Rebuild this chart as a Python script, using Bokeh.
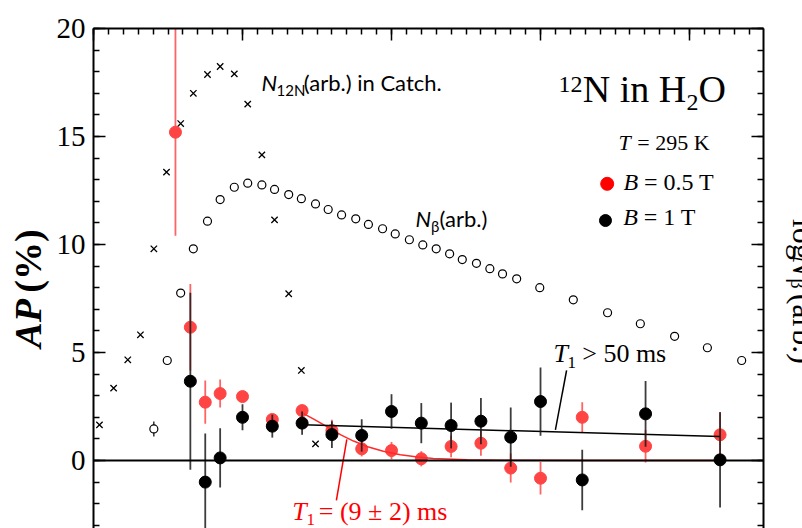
import numpy as np
from bokeh.plotting import figure
from bokeh.layouts import row
from bokeh.models import Range1d, LinearAxis, FixedTicker, Span, Label
from bokeh.embed import file_html
from bokeh.resources import INLINE

# ---- measured asymmetry, B = 0.5 T ----
t_b05 = [11, 13, 15, 17, 20, 24, 28, 32, 36, 40, 44, 48, 52, 56, 60, 65.6, 74.1, 84.1]
ap_b05 = [15.2, 6.17, 2.7, 3.1, 2.96, 1.9, 2.31, 1.39, 0.54, 0.46, 0.08, 0.65, 0.8, -0.35, -0.82, 2.0, 0.66, 1.19]
err_b05 = [4.8, 2.0, 1.0, 0.65, 0.25, 0.25, 0.25, 0.5, 0.35, 0.4, 0.35, 0.5, 0.58, 0.67, 0.75, 0.7, 0.75, 1.05]

# ---- measured asymmetry, B = 1 T ----
t_b1 = [13, 15, 17, 20, 24, 28, 32, 36, 40, 44, 48, 52, 56, 60, 65.6, 74.1, 84.1]
ap_b1 = [3.67, -1.0, 0.12, 2.0, 1.59, 1.73, 1.2, 1.16, 2.27, 1.73, 1.62, 1.82, 1.08, 2.73, -0.9, 2.16, 0.03]
err_b1 = [4.1, 2.25, 1.37, 0.6, 0.53, 0.54, 0.62, 0.75, 0.8, 0.93, 1.06, 1.07, 1.37, 1.58, 1.4, 1.52, 2.2]

# ---- 12N yield in the catcher (arb.) ----
t_catch = [0.8, 2.7, 4.6, 6.3, 8.1, 9.8, 11.7, 13.4, 15.3, 17.0, 18.9, 20.7, 22.6, 24.3, 26.2, 27.9, 29.8]
n_catch = [1.65, 3.35, 4.66, 5.82, 9.8, 13.35, 15.6, 17.0, 17.87, 18.24, 17.9, 16.5, 14.15, 11.14, 7.72, 4.17, 0.77]

# ---- beta counts (arb.) ----
t_beta = [8.1, 9.9, 11.7, 13.4, 15.3, 17.0, 18.9, 20.7, 22.6, 24.3, 26.2, 27.9, 29.8, 31.5, 33.3,
          35.2, 36.9, 38.8, 40.5, 42.4, 44.2, 46.0, 47.8, 49.5, 51.4, 53.2, 54.9, 56.8, 59.9,
          64.4, 69.0, 73.4, 78.0, 82.4, 87.0]
n_beta = [1.46, 4.63, 7.75, 9.8, 11.08, 12.08, 12.65, 12.84, 12.76, 12.55, 12.31, 12.12, 11.88, 11.62, 11.37,
          11.19, 10.93, 10.73, 10.49, 10.22, 9.98, 9.8, 9.57, 9.3, 9.13, 8.88, 8.64, 8.41, 8.0,
          7.44, 6.84, 6.33, 5.75, 5.22, 4.63]
beta_err_index = 0
beta_err = 0.35

# ---- relaxation fits ----
fit_t_fast = [28.2, 29.5, 31.4, 33.2, 34.9, 36.8, 38.9, 41.2, 43.5, 45.6, 50.2, 54.6, 68.0, 84.2]
fit_ap_fast = [2.17, 1.93, 1.56, 1.19, 0.9, 0.64, 0.43, 0.27, 0.16, 0.09, 0.035, 0.015, 0.0, 0.0]
fit_t_slow = [28.1, 84.1]
fit_ap_slow = [1.65, 1.11]

y_major = [0, 5, 10, 15, 20]
x_major = [0, 20, 40, 60, 80]

SERIF = "Liberation Serif"
SANS = "Lato"
RED_DOT = "#ff4444"
RED_BAR = "#ff6464"
PX_PER_UNIT = 21.6   # vertical pixels per AP unit in the main frame

H = 528
p = figure(width=715, height=H, x_range=Range1d(0, 89.93), y_range=Range1d(-3.148, 20),
           output_backend="svg", toolbar_location=None, x_axis_location="above",
           min_border_left=43, min_border_right=2, min_border_top=28, min_border_bottom=0,
           outline_line_color=None, background_fill_color="white", border_fill_color="white")
p.grid.visible = False


def style_axis(ax, ticks, minor, show_labels):
    ax.ticker = FixedTicker(ticks=ticks, minor_ticks=minor)
    ax.axis_line_width = 2
    ax.axis_line_color = "black"
    ax.major_tick_in = 12
    ax.major_tick_out = 0
    ax.minor_tick_in = 6
    ax.minor_tick_out = 0
    ax.major_tick_line_width = 1.5
    ax.minor_tick_line_width = 1.5
    ax.major_tick_line_color = "black"
    ax.minor_tick_line_color = "black"
    if show_labels:
        ax.major_label_text_font = SERIF
        ax.major_label_text_font_size = "29px"
        ax.major_label_text_color = "black"
        ax.major_label_standoff = 8
    else:
        ax.major_label_text_font_size = "0px"
        ax.major_label_text_color = None
        ax.major_label_standoff = 0


style_axis(p.xaxis[0], x_major, list(range(0, 91, 2)), False)
style_axis(p.yaxis[0], y_major, list(range(-3, 21)), True)
right_axis = LinearAxis()
style_axis(right_axis, y_major, list(range(-3, 21)), False)
p.add_layout(right_axis, "right")

p.add_layout(Span(location=0, dimension="width", line_color="black", line_width=2))

# catcher yield and beta counts
p.scatter(t_catch, n_catch, marker="x", size=9, line_color="black", line_width=1.3)
p.segment(x0=[t_beta[beta_err_index]], x1=[t_beta[beta_err_index]],
          y0=[n_beta[beta_err_index] - beta_err], y1=[n_beta[beta_err_index] + beta_err],
          line_color="black", line_width=1.2)
p.scatter(t_beta, n_beta, marker="circle", size=8, fill_color="white", line_color="black", line_width=1.2)

# B = 0.5 T
a05 = np.array(ap_b05)
e05 = np.array(err_b05)
p.segment(x0=t_b05, x1=t_b05, y0=a05 - e05, y1=a05 + e05, line_color=RED_BAR, line_width=1.8)
p.scatter(t_b05, ap_b05, marker="circle", size=12, fill_color=RED_DOT, line_color=RED_DOT)

# fits
p.line(fit_t_fast, fit_ap_fast, line_color="#ff2a2a", line_width=1.5)
p.line(fit_t_slow, fit_ap_slow, line_color="black", line_width=1.5)

# B = 1 T
a1 = np.array(ap_b1)
e1 = np.array(err_b1)
p.segment(x0=t_b1, x1=t_b1, y0=a1 - e1, y1=a1 + e1, line_color="#1a1a1a", line_width=1.8, line_alpha=0.85)
p.scatter(t_b1, ap_b1, marker="circle", size=12, fill_color="black", line_color="black")

# pointer lines to the fit annotations
p.segment(x0=[34.0], y0=[0.98], x1=[32.6], y1=[-1.85], line_color="red", line_width=1.5)
p.segment(x0=[63.5], y0=[4.17], x1=[62.0], y1=[1.42], line_color="black", line_width=1.5)

# legend swatches
p.scatter([68.95], [12.81], marker="circle", size=13, fill_color="red", line_color="red")
p.scatter([68.72], [11.11], marker="circle", size=12, fill_color="black", line_color="black")


def txt(x, y, s, size, font=SERIF, style="normal", color="black"):
    """Place text whose baseline sits at data height y."""
    y_mid = y + 0.38 * size / PX_PER_UNIT
    p.add_layout(Label(x=x, y=y_mid, text=s, text_font=font, text_font_size=f"{size}px",
                       text_font_style=style, text_color=color, text_align="left",
                       text_baseline="middle"))


# sample / conditions
txt(62.42, 16.99, "12", 24)
txt(65.68, 16.51, "N in H", 38)
txt(79.60, 16.13, "2", 24)
txt(81.21, 16.51, "O", 38)
txt(70.47, 14.32, "T", 22, style="italic")
txt(72.98, 14.32, "= 295 K", 22)
txt(71.14, 12.45, "B", 24, style="italic")
txt(73.89, 12.45, "= 0.5 T", 24)
txt(71.10, 10.83, "B", 24, style="italic")
txt(73.85, 10.83, "= 1 T", 24)

# series annotations
txt(22.55, 17.13, "N", 22, font=SANS, style="italic")
txt(24.56, 16.90, "12N", 15, font=SANS)
txt(28.23, 17.13, "(arb.) in Catch.", 22, font=SANS)
txt(43.22, 10.80, "N", 22, font=SANS, style="italic")
txt(45.30, 10.57, "β", 15, font=SANS)
txt(46.44, 10.80, "(arb.)", 22, font=SANS)

# fit results
txt(61.74, 4.50, "T", 26, style="italic")
txt(63.62, 4.26, "1", 17)
txt(65.60, 4.50, "> 50 ms", 26)
txt(26.67, -2.80, "T", 26, style="italic", color="red")
txt(28.59, -3.04, "1", 17, color="red")
txt(30.24, -2.80, "= (9 ± 2) ms", 26, color="red")


def side_panel(width, x0, x1):
    """Narrow text-only strip; x in page pixels, y in page pixels from the top."""
    f = figure(width=width, height=H, x_range=Range1d(x0, x1), y_range=Range1d(H, 0),
               output_backend="svg", toolbar_location=None, min_border=0,
               outline_line_color=None, background_fill_color="white", border_fill_color="white")
    f.axis.visible = False
    f.grid.visible = False
    return f


def vtxt(f, x, y, s, size, angle, style="normal"):
    f.add_layout(Label(x=x, y=y, text=s, text_font=SERIF, text_font_size=f"{size}px",
                       text_font_style=style, text_color="black", text_align="left",
                       text_baseline="middle", angle=angle))


# y-axis title on the left
left = side_panel(50, 0, 50)
vtxt(left, 27, 337, "AP", 38, np.pi / 2, style="bold italic")
vtxt(left, 27, 279, "(%)", 38, np.pi / 2, style="bold")

# secondary-axis title on the right
right = side_panel(37, 765, 802)
vtxt(right, 803, 201, "log", 32, -np.pi / 2)
vtxt(right, 803, 239, "N", 32, -np.pi / 2, style="italic")
vtxt(right, 797, 264, "β", 20, -np.pi / 2)
vtxt(right, 803, 280, "(arb.)", 32, -np.pi / 2)

layout = row(left, p, right)
open("out.html", "w").write(file_html(layout, INLINE))
